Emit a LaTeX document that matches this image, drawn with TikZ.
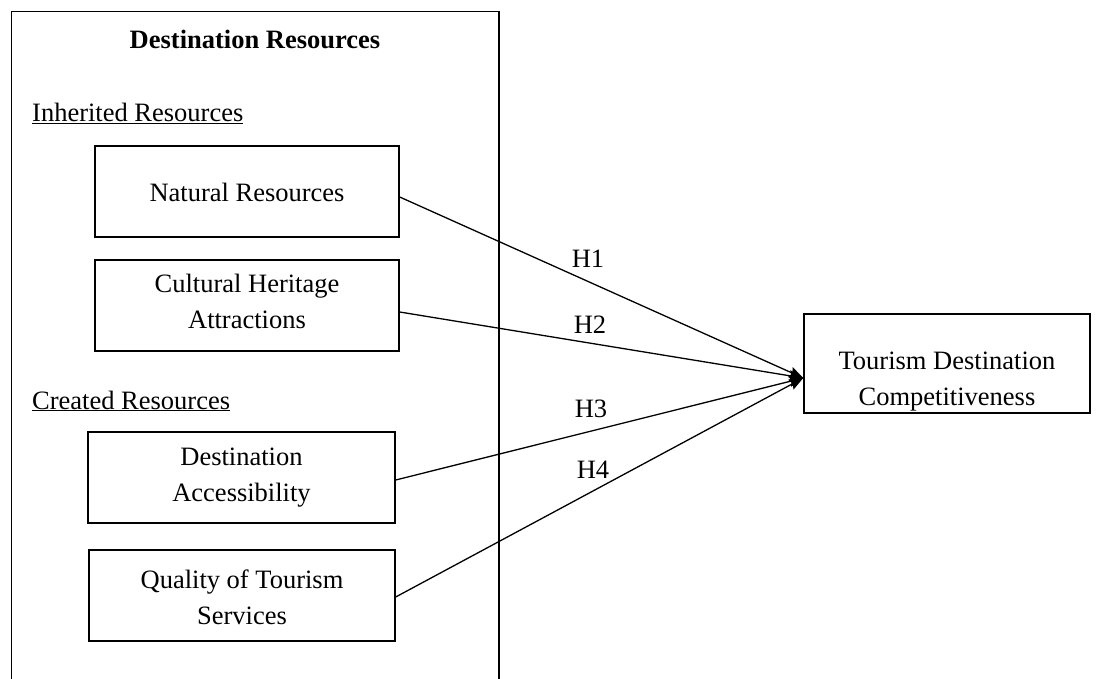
\documentclass[tikz,border=0pt]{standalone}
\usepackage{fontspec}
\setmainfont{Liberation Serif}
\usetikzlibrary{arrows.meta,calc}
\begin{document}
\begin{tikzpicture}[x=1pt,y=-1pt,
  txt/.style={font=\fontsize{26.5}{36}\selectfont,inner sep=0pt,align=center},
  box/.style={draw,line width=1.4pt,minimum width=#1,minimum height=91pt,inner sep=0pt},
  arr/.style={line width=1.3pt,-{Stealth[length=14pt,width=11pt,inset=2pt]}},
  hlab/.style={font=\fontsize{26.5}{36}\selectfont,inner sep=0pt}]
\useasboundingbox (0,0) rectangle (1101,679);
\fill[white] (0,0) rectangle (1101,679);
% outer frame (open at bottom)
\draw[line width=1.4pt] (11.5,680) -- (11.5,11.5) -- (499,11.5) -- (499,680);
\node[txt,font=\fontsize{26.5}{36}\selectfont\bfseries,anchor=base] (title) at (255,49) {Destination Resources};
\node[txt,anchor=base west] (inh) at (32,122) {\underline{Inherited Resources}};
\node[txt,anchor=base west] (cre) at (32,409) {\underline{Created Resources}};
\node[box=304pt] (N) at (247,191.5) {};
\node[box=304pt] (C) at (247,305.5) {};
\node[box=307pt] (D) at (241.5,477.5) {};
\node[box=306pt] (Q) at (242,595.5) {};
\node[box=286pt,minimum height=99pt] (T) at (947,363.5) {};
\node[txt] (Nt) at ($(N)+(0,1)$) {Natural Resources};
\node[txt] (Ct) at ($(C)+(0,-4)$) {Cultural Heritage\\Attractions};
\node[txt] (Dt) at ($(D)+(0,0)$) {Destination\\Accessibility};
\node[txt] (Qt) at ($(Q)+(0,1.5)$) {Quality of Tourism\\Services};
\node[txt] (Tt) at ($(T)+(0,18)$) {Tourism Destination\\Competitiveness};
\coordinate (tip) at ($(T.west)+(0,14.5)$);
\draw[arr] ($(N.east)+(0,5.5)$) -- (tip);
\draw[arr] ($(C.east)+(0,6.5)$) -- (tip);
\draw[arr] ($(D.east)+(0,2.5)$) -- (tip);
\draw[arr] ($(Q.east)+(0,1.5)$) -- (tip);
\node[hlab] (h1) at (588,259) {H1};
\node[hlab] (h2) at (590,325) {H2};
\node[hlab] (h3) at (591,409) {H3};
\node[hlab] (h4) at (593,470) {H4};
\end{tikzpicture}
\end{document}
